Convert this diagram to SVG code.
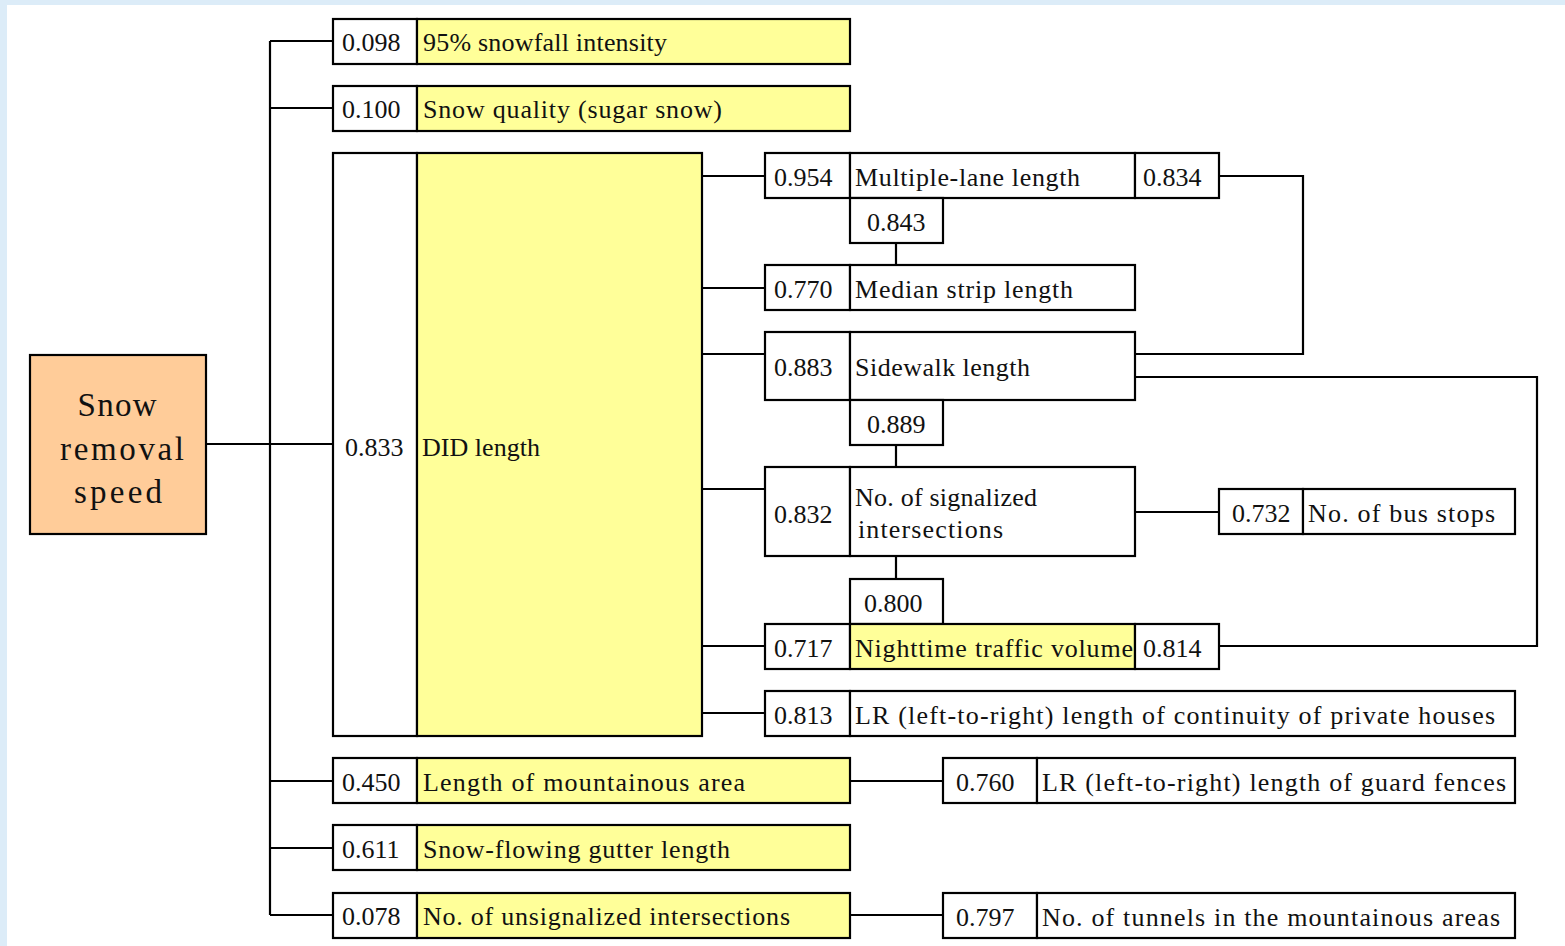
<svg xmlns="http://www.w3.org/2000/svg" width="1565" height="946" viewBox="0 0 1565 946">
<style>
.b{stroke:#000;stroke-width:2.2;fill:#fff}
.y{stroke:#000;stroke-width:2.2;fill:#ffff99}
.r{stroke:#000;stroke-width:2.2;fill:#ffcc99}
.t{font-family:"Liberation Serif",serif;font-size:26px;fill:#111}
.rt{font-family:"Liberation Serif",serif;font-size:33px;fill:#111;text-anchor:middle}
.c{stroke:#000;stroke-width:2.2;fill:none}
</style>
<rect x="0" y="0" width="1565" height="946" fill="#dcecf8"/>
<rect x="7" y="5" width="1558" height="941" fill="#fff"/>
<g id="connectors">
<path class="c" d="M206 444H333M270 41V915M270 41H333M270 108H333M270 781H333M270 848H333M270 915H333"/>
<path class="c" d="M702 176H765M702 288H765M702 354H765M702 489H765M702 646H765M702 713H765"/>
<path class="c" d="M896 243V265M896 445V467M896 556V579"/>
<path class="c" d="M1219 176H1303V354H1135M1135 377H1537V646H1219M1135 512H1219M850 781H943M850 915H943"/>
</g>
<g id="root"><rect class="r" x="30" y="355" width="176" height="179"/>
<text class="rt" x="117" y="416" textLength="79">Snow</text>
<text class="rt" x="122" y="460" textLength="124">removal</text>
<text class="rt" x="118" y="503" textLength="88">speed</text></g>
<g id="n1"><rect class="b" x="333" y="19" width="84" height="45"/><rect class="y" x="417" y="19" width="433" height="45"/>
<text class="t" x="342" y="51">0.098</text><text class="t" x="423" y="51" textLength="244">95% snowfall intensity</text></g>
<g id="n2"><rect class="b" x="333" y="86" width="84" height="45"/><rect class="y" x="417" y="86" width="433" height="45"/>
<text class="t" x="342" y="118">0.100</text><text class="t" x="423" y="118" textLength="299">Snow quality (sugar snow)</text></g>
<g id="did"><rect class="b" x="333" y="153" width="84" height="583"/><rect class="y" x="417" y="153" width="285" height="583"/>
<text class="t" x="345" y="456">0.833</text><text class="t" x="422" y="456" textLength="118">DID length</text></g>
<g id="n4"><rect class="b" x="333" y="758" width="84" height="45"/><rect class="y" x="417" y="758" width="433" height="45"/>
<text class="t" x="342" y="791">0.450</text><text class="t" x="423" y="791" textLength="322">Length of mountainous area</text></g>
<g id="n5"><rect class="b" x="333" y="825" width="84" height="45"/><rect class="y" x="417" y="825" width="433" height="45"/>
<text class="t" x="342" y="858">0.611</text><text class="t" x="423" y="858" textLength="307">Snow-flowing gutter length</text></g>
<g id="n6"><rect class="b" x="333" y="893" width="84" height="45"/><rect class="y" x="417" y="893" width="433" height="45"/>
<text class="t" x="342" y="925">0.078</text><text class="t" x="423" y="925" textLength="367">No. of unsignalized intersections</text></g>
<g id="multi"><rect class="b" x="765" y="153" width="85" height="45"/><rect class="b" x="850" y="153" width="285" height="45"/><rect class="b" x="1135" y="153" width="84" height="45"/>
<text class="t" x="774" y="186">0.954</text><text class="t" x="855" y="186" textLength="225">Multiple-lane length</text><text class="t" x="1143" y="186">0.834</text></g>
<g id="c843"><rect class="b" x="850" y="198" width="93" height="45"/><text class="t" x="867" y="231">0.843</text></g>
<g id="median"><rect class="b" x="765" y="265" width="85" height="45"/><rect class="b" x="850" y="265" width="285" height="45"/>
<text class="t" x="774" y="298">0.770</text><text class="t" x="855" y="298" textLength="218">Median strip length</text></g>
<g id="sidewalk"><rect class="b" x="765" y="332" width="85" height="68"/><rect class="b" x="850" y="332" width="285" height="68"/>
<text class="t" x="774" y="376">0.883</text><text class="t" x="855" y="376" textLength="175">Sidewalk length</text></g>
<g id="c889"><rect class="b" x="850" y="400" width="93" height="45"/><text class="t" x="867" y="433">0.889</text></g>
<g id="signal"><rect class="b" x="765" y="467" width="85" height="89"/><rect class="b" x="850" y="467" width="285" height="89"/>
<text class="t" x="774" y="523">0.832</text><text class="t" x="855" y="506" textLength="182">No. of signalized</text><text class="t" x="858" y="538" textLength="145">intersections</text></g>
<g id="c800"><rect class="b" x="850" y="579" width="93" height="45"/><text class="t" x="864" y="612">0.800</text></g>
<g id="night"><rect class="b" x="765" y="624" width="85" height="45"/><rect class="y" x="850" y="624" width="285" height="45"/><rect class="b" x="1135" y="624" width="84" height="45"/>
<text class="t" x="774" y="657">0.717</text><text class="t" x="855" y="657" textLength="278">Nighttime traffic volume</text><text class="t" x="1143" y="657">0.814</text></g>
<g id="lr1"><rect class="b" x="765" y="691" width="85" height="45"/><rect class="b" x="850" y="691" width="665" height="45"/>
<text class="t" x="774" y="724">0.813</text><text class="t" x="855" y="724" textLength="640">LR (left-to-right) length of continuity of private houses</text></g>
<g id="bus"><rect class="b" x="1219" y="489" width="84" height="45"/><rect class="b" x="1303" y="489" width="212" height="45"/>
<text class="t" x="1232" y="522">0.732</text><text class="t" x="1308" y="522" textLength="187">No. of bus stops</text></g>
<g id="guard"><rect class="b" x="943" y="758" width="94" height="45"/><rect class="b" x="1037" y="758" width="478" height="45"/>
<text class="t" x="956" y="791">0.760</text><text class="t" x="1042" y="791" textLength="464">LR (left-to-right) length of guard fences</text></g>
<g id="tunnel"><rect class="b" x="943" y="893" width="94" height="45"/><rect class="b" x="1037" y="893" width="478" height="45"/>
<text class="t" x="956" y="926">0.797</text><text class="t" x="1042" y="926" textLength="458">No. of tunnels in the mountainous areas</text></g>
</svg>
